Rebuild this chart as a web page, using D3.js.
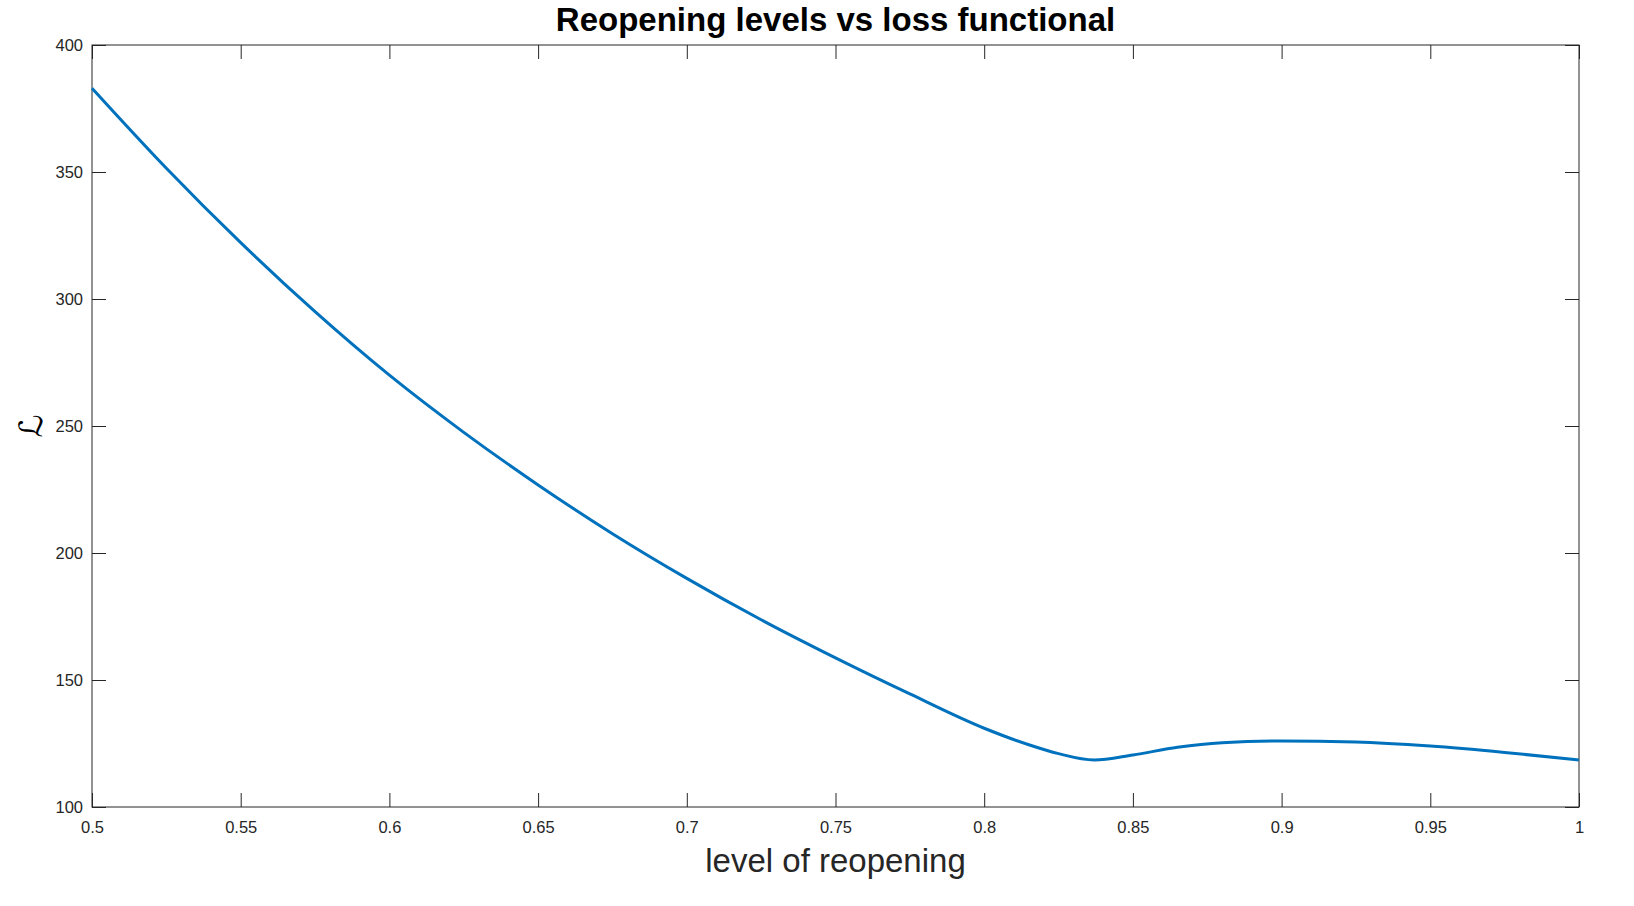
<!DOCTYPE html>
<html>
<head>
<meta charset="utf-8">
<script src="https://cdn.jsdelivr.net/npm/d3@7"></script>
<style>
  body { margin: 0; background: #fff; }
  text { font-family: "Liberation Sans", Arial, Helvetica, sans-serif; }
</style>
</head>
<body>
<svg id="chart"></svg>
<script>
// values
const reopening = [0.50, 0.525, 0.55, 0.575, 0.60, 0.625, 0.65, 0.675, 0.70, 0.725, 0.75, 0.775,
  0.80, 0.815, 0.825, 0.837, 0.85, 0.865, 0.88, 0.90, 0.925, 0.95, 0.975, 1.00];
const loss = [383, 351.5, 322.2, 295, 270, 247.5, 226.8, 207.6, 190, 173.7, 158.7, 144.5,
  131, 124.5, 121, 118.5, 120.5, 123.5, 125.3, 126, 125.6, 124, 121.5, 118.5];
const xTicks = [0.5, 0.55, 0.6, 0.65, 0.7, 0.75, 0.8, 0.85, 0.9, 0.95, 1];
const yTicks = [100, 150, 200, 250, 300, 350, 400];

const width = 1634;
const height = 906;
const margins = { left: 92, top: 45, right: 55, bottom: 99 };
const axisColor = '#262626';

const svg = d3.select('#chart')
  .attr('width', width)
  .attr('height', height);

const xScale = d3.scaleLinear()
  .domain([0.5, 1])
  .range([margins.left, width - margins.right]);
const yScale = d3.scaleLinear()
  .domain([100, 400])
  .range([height - margins.bottom, margins.top]);

const fmt = d => String(+d.toFixed(2));

const styleAxis = g => {
  g.select('.domain').remove();
  g.selectAll('line').attr('stroke', axisColor);
  g.selectAll('text')
    .attr('fill', axisColor)
    .style('font-size', '16.5px');
};

// bottom + top x axes (ticks point inward)
svg.append('g')
  .attr('transform', `translate(0,${yScale(100)})`)
  .call(d3.axisBottom(xScale).tickValues(xTicks).tickFormat(fmt)
    .tickSizeInner(-14).tickSizeOuter(0).tickPadding(14.5))
  .call(styleAxis);
svg.append('g')
  .attr('transform', `translate(0,${yScale(400)})`)
  .call(d3.axisTop(xScale).tickValues(xTicks).tickFormat('')
    .tickSizeInner(-14).tickSizeOuter(0))
  .call(styleAxis);

// left + right y axes
svg.append('g')
  .attr('transform', `translate(${xScale(0.5)},0)`)
  .call(d3.axisLeft(yScale).tickValues(yTicks)
    .tickSizeInner(-14).tickSizeOuter(0).tickPadding(9))
  .call(styleAxis);
svg.append('g')
  .attr('transform', `translate(${xScale(1)},0)`)
  .call(d3.axisRight(yScale).tickValues(yTicks).tickFormat('')
    .tickSizeInner(-14).tickSizeOuter(0))
  .call(styleAxis);

// box
svg.append('rect')
  .attr('x', xScale(0.5))
  .attr('y', yScale(400))
  .attr('width', xScale(1) - xScale(0.5))
  .attr('height', yScale(100) - yScale(400))
  .attr('fill', 'none')
  .attr('stroke', axisColor)
  .attr('stroke-width', 1);

// the curve
const line = d3.line()
  .curve(d3.curveMonotoneX)
  .x(d => xScale(d[0]))
  .y(d => yScale(d[1]));

svg.append('path')
  .datum(reopening.map((x, i) => [x, loss[i]]))
  .attr('d', line)
  .attr('fill', 'none')
  .attr('stroke', '#0072BD')
  .attr('stroke-width', 3);

// labels
const cx = (xScale(0.5) + xScale(1)) / 2;
svg.append('text')
  .attr('x', cx)
  .attr('y', 31)
  .attr('text-anchor', 'middle')
  .style('font-size', '33px')
  .style('font-weight', 'bold')
  .attr('fill', '#000')
  .text('Reopening levels vs loss functional');

svg.append('text')
  .attr('x', cx)
  .attr('y', 872)
  .attr('text-anchor', 'middle')
  .style('font-size', '33px')
  .attr('fill', axisColor)
  .text('level of reopening');

svg.append('text')
  .attr('transform', `translate(42,${(yScale(100) + yScale(400)) / 2}) rotate(-90)`)
  .attr('text-anchor', 'middle')
  .style('font-family', '"DejaVu Serif", "DejaVu Sans", serif')
  .style('font-size', '32px')
  .attr('fill', '#000')
  .text('ℒ');
</script>
</body>
</html>
